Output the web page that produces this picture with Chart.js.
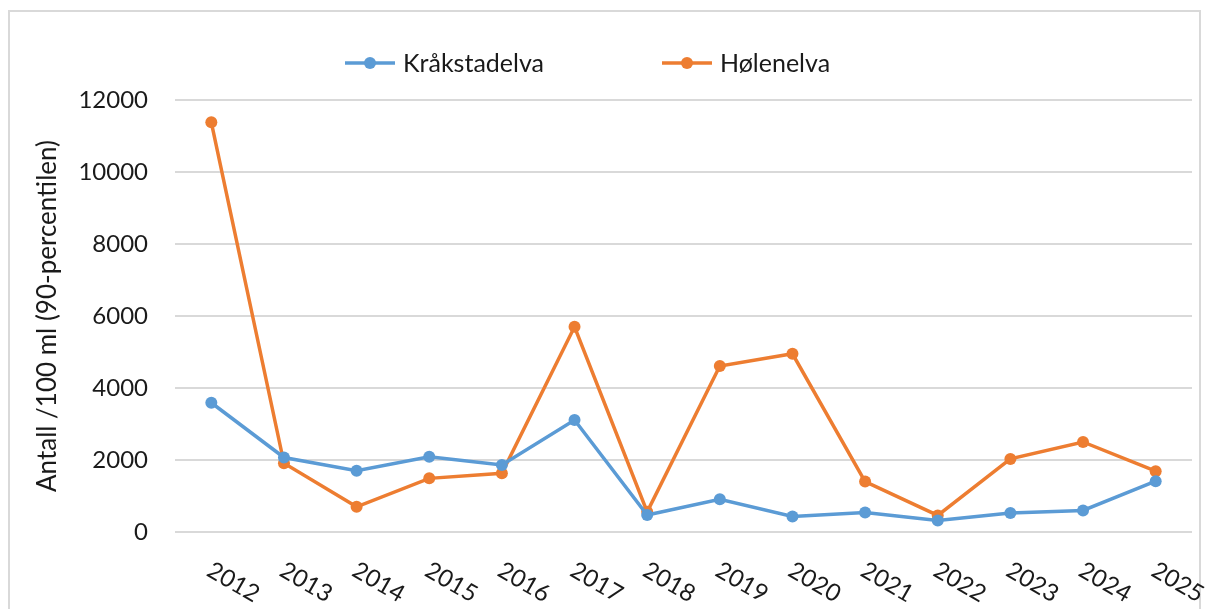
<!DOCTYPE html>
<html>
<head>
<meta charset="utf-8">
<script src="https://cdn.jsdelivr.net/npm/chart.js@4.4.1/dist/chart.umd.min.js"></script>
<style>
    html, body { margin: 0; padding: 0; background: #fff; }
</style>
</head>
<body>
<canvas id="chart" width="1208" height="609"></canvas>
<script>
// data
const years = ['2012', '2013', '2014', '2015', '2016', '2017', '2018', '2019', '2020', '2021', '2022', '2023', '2024', '2025'];
const kraakstadelva = [3590, 2070, 1700, 2090, 1860, 3110, 470, 910, 430, 540, 320, 530, 600, 1410];
const holenelva = [11380, 1910, 700, 1490, 1630, 5700, 560, 4610, 4950, 1400, 460, 2030, 2500, 1690];
const yMin = 0;
const yMax = 12000;
const yStep = 2000;

const blue = '#5b9bd5';
const orange = '#ed7d31';
const textColor = '#1a1a1a';
const fontFamily = 'Lato, "Open Sans", sans-serif';

// frame round the whole chart, like the office chart border
const framePlugin = {
    id: 'frame',
    beforeDraw(chart) {
        const ctx = chart.ctx;
        ctx.save();
        ctx.strokeStyle = '#d9d9d9';
        ctx.lineWidth = 2;
        ctx.strokeRect(9, 11, 1191, 640);
        ctx.restore();
    }
};

// legend with line + dot, as in the reference
const legendPlugin = {
    id: 'lineLegend',
    afterDraw(chart) {
        const ctx = chart.ctx;
        const items = [
            { x: 345, ds: chart.data.datasets[0] },
            { x: 662, ds: chart.data.datasets[1] }
        ];
        const y = 63;
        ctx.save();
        items.forEach(it => {
            ctx.strokeStyle = it.ds.borderColor;
            ctx.lineWidth = 3.5;
            ctx.beginPath();
            ctx.moveTo(it.x, y);
            ctx.lineTo(it.x + 50, y);
            ctx.stroke();
            ctx.fillStyle = it.ds.borderColor;
            ctx.beginPath();
            ctx.arc(it.x + 25, y, 6, 0, Math.PI * 2);
            ctx.fill();
            ctx.fillStyle = textColor;
            ctx.font = '25px ' + fontFamily;
            ctx.textBaseline = 'middle';
            ctx.textAlign = 'left';
            ctx.fillText(it.ds.label, it.x + 58, y + 1);
        });
        ctx.restore();
    }
};

// x labels tilted downwards to the right
const xLabelPlugin = {
    id: 'tiltedLabels',
    afterDraw(chart) {
        const ctx = chart.ctx;
        const xs = chart.scales.x;
        const bottom = chart.chartArea.bottom;
        ctx.save();
        ctx.fillStyle = textColor;
        ctx.font = '24px ' + fontFamily;
        ctx.textAlign = 'left';
        ctx.textBaseline = 'alphabetic';
        xs.ticks.forEach((t, i) => {
            const x = xs.getPixelForTick(i);
            ctx.save();
            ctx.translate(x - 6, bottom + 43);
            ctx.rotate(Math.PI / 6);
            ctx.fillText(years[i], 0, 0);
            ctx.restore();
        });
        ctx.restore();
    }
};

const ctx = document.getElementById('chart').getContext('2d');
new Chart(ctx, {
    type: 'line',
    data: {
        labels: years,
        datasets: [{
            label: 'Kråkstadelva',
            data: kraakstadelva,
            borderColor: blue,
            backgroundColor: blue,
            borderWidth: 3.5,
            pointRadius: 6,
            pointHoverRadius: 6,
            pointBorderWidth: 0,
            tension: 0
        }, {
            label: 'Hølenelva',
            data: holenelva,
            borderColor: orange,
            backgroundColor: orange,
            borderWidth: 3.5,
            pointRadius: 6,
            pointHoverRadius: 6,
            pointBorderWidth: 0,
            tension: 0
        }]
    },
    options: {
        responsive: false,
        animation: false,
        layout: {
            padding: { top: 100, right: 16, bottom: 77, left: 0 }
        },
        plugins: {
            legend: { display: false },
            tooltip: { enabled: false }
        },
        scales: {
            x: {
                offset: true,
                grid: { display: false, drawTicks: false },
                border: { display: false },
                ticks: { display: false }
            },
            y: {
                min: yMin,
                max: yMax,
                afterFit(scale) { scale.width = 175; },
                grid: { color: '#d9d9d9', lineWidth: 2, drawTicks: false },
                border: { display: false },
                ticks: {
                    stepSize: yStep,
                    padding: 27,
                    color: textColor,
                    font: { family: fontFamily, size: 24 },
                    callback: v => String(v)
                },
                title: {
                    display: true,
                    text: 'Antall /100 ml (90-percentilen)',
                    color: textColor,
                    font: { family: fontFamily, size: 26 },
                    padding: { top: 32, bottom: 0 }
                }
            }
        }
    },
    plugins: [framePlugin, legendPlugin, xLabelPlugin]
});
</script>
</body>
</html>
